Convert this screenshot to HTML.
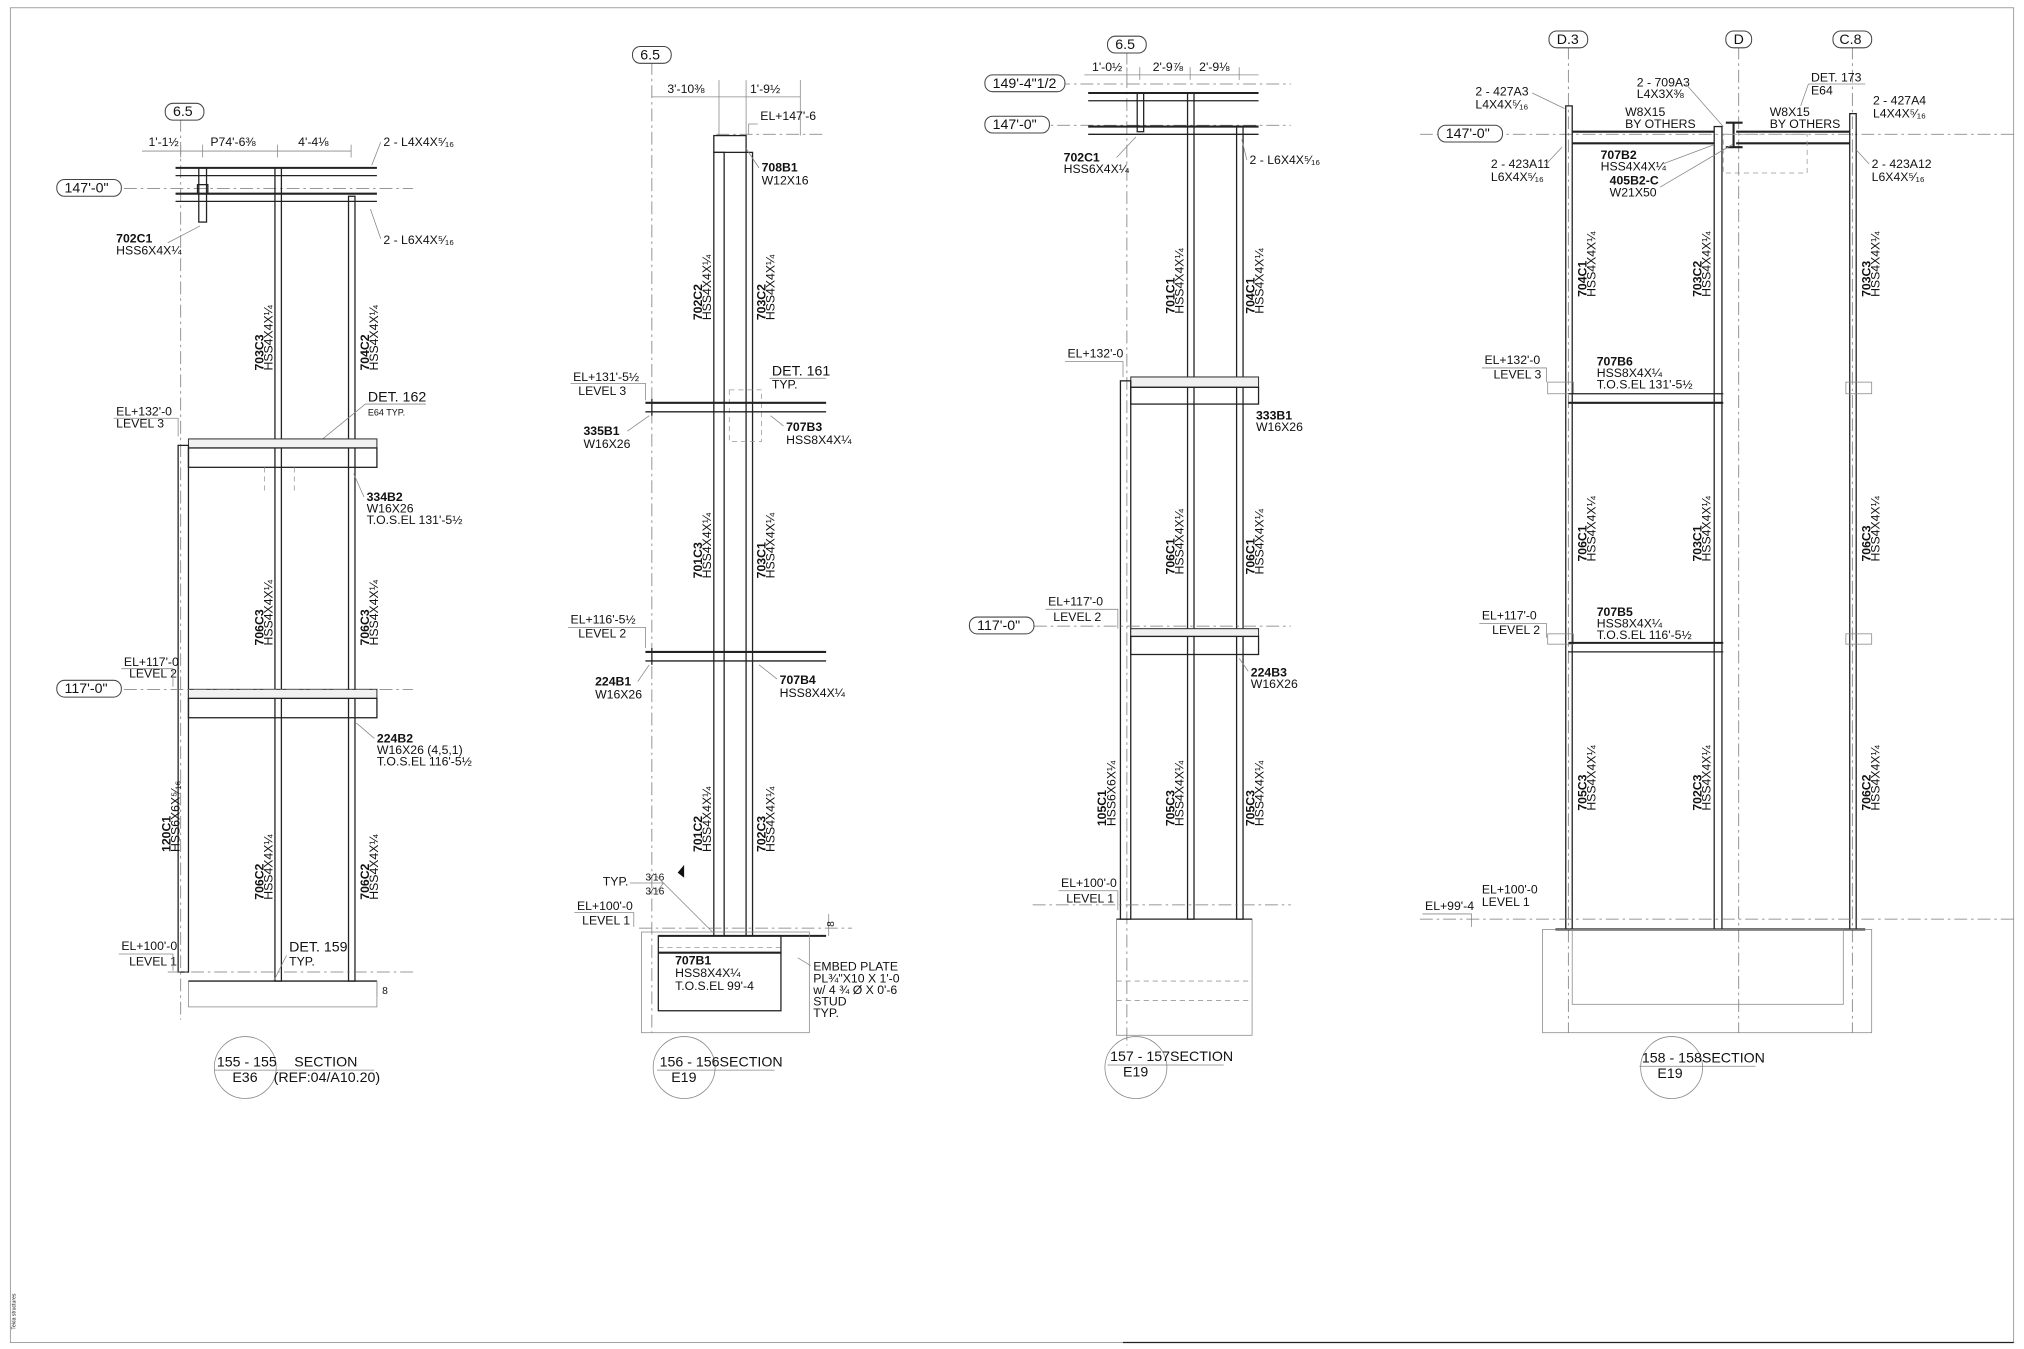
<!DOCTYPE html>
<html><head><meta charset="utf-8"><style>
html,body{margin:0;padding:0;background:#fff}
svg{display:block}
text{font-family:"Liberation Sans",sans-serif;font-size:9.5px;fill:#111}
.b{font-weight:bold}
.l{stroke:#222;stroke-width:1;fill:none}
.t{stroke:#222;stroke-width:1.6;fill:none}
.d{stroke:#777;stroke-width:.6;fill:none;stroke-dasharray:10 3 2 3}
.h{stroke:#999;stroke-width:.6;fill:none;stroke-dasharray:4 3}
.g{stroke:#888;stroke-width:.6;fill:none}
.sl{fill:#f1f1f1;stroke:#333;stroke-width:.8}
.bub{fill:#fff;stroke:#444;stroke-width:.8}
</style></head><body>
<svg width="2024" height="1349" viewBox="0 0 1568 1045" xmlns="http://www.w3.org/2000/svg">
<rect x="8" y="6" width="1552" height="1034" class="g"/>
<text x="12" y="1030" style="font-size:4px" transform="rotate(-90 12 1030)">Tekla structures</text>

<!-- ============ SECTION 155 ============ -->
<line x1="140" y1="92" x2="140" y2="790" class="d"/>
<line x1="60" y1="146" x2="320" y2="146" class="d"/>
<rect x="128" y="80" width="30" height="13" rx="6" class="bub"/><text x="134" y="90" style="font-size:11px">6.5</text>
<rect x="44" y="139" width="50" height="13" rx="6" class="bub"/><text x="50" y="149" style="font-size:11px">147'-0"</text>
<line x1="110" y1="117" x2="272" y2="117" class="g"/>
<line x1="140" y1="112" x2="140" y2="122" class="g"/><line x1="157" y1="112" x2="157" y2="122" class="g"/><line x1="215" y1="112" x2="215" y2="122" class="g"/><line x1="272" y1="112" x2="272" y2="122" class="g"/>
<text x="115" y="113">1'-1½</text><text x="163" y="113">P74'-6⅜</text><text x="231" y="113">4'-4⅛</text>
<line x1="136" y1="130" x2="292" y2="130" class="t"/><line x1="136" y1="136" x2="292" y2="136" class="l"/>
<line x1="136" y1="150" x2="292" y2="150" class="t"/><line x1="136" y1="156" x2="292" y2="156" class="l"/>
<rect x="154" y="130" width="6" height="42" class="l"/><rect x="153" y="143" width="8" height="7" class="l"/>
<rect x="213" y="130" width="5" height="630" class="l"/><rect x="270" y="152" width="5" height="608" class="l"/>
<text x="297" y="113">2 - L4X4X⁵⁄₁₆</text><path d="M295 110 L288 128" class="g"/>
<text x="297" y="189">2 - L6X4X⁵⁄₁₆</text><path d="M295 185 L287 162" class="g"/>
<text x="90" y="188" class="b">702C1</text><text x="90" y="197">HSS6X4X¼</text><path d="M130 188 L155 175" class="g"/>
<text transform="translate(204 287) rotate(-90)" class="b">703C3</text><text transform="translate(211 287) rotate(-90)">HSS4X4X¼</text>
<text transform="translate(286 287) rotate(-90)" class="b">704C2</text><text transform="translate(293 287) rotate(-90)">HSS4X4X¼</text>
<text x="285" y="311" style="font-size:11px">DET. 162</text><text x="285" y="322" style="font-size:7px">E64 TYP.</text><line x1="283" y1="313" x2="330" y2="313" class="g"/><path d="M283 313 L250 340" class="g"/>
<text x="90" y="322">EL+132'-0</text><text x="90" y="331">LEVEL 3</text><path d="M88 324 L138 324 L138 338" class="g"/>
<rect x="146" y="340" width="146" height="7" class="sl"/><rect x="146" y="347" width="146" height="15" fill="#fff" class="l"/>
<rect x="138" y="345" width="8" height="408" class="l"/>
<rect x="146" y="534" width="146" height="7" class="sl"/><rect x="146" y="541" width="146" height="15" fill="#fff" class="l"/>
<line x1="205" y1="362" x2="205" y2="380" class="h"/><line x1="228" y1="362" x2="228" y2="380" class="h"/>
<text x="284" y="388" class="b">334B2</text><text x="284" y="397">W16X26</text><text x="284" y="406">T.O.S.EL 131'-5½</text><path d="M282 385 L274 367" class="g"/>
<text transform="translate(204 500) rotate(-90)" class="b">706C3</text><text transform="translate(211 500) rotate(-90)">HSS4X4X¼</text>
<text transform="translate(286 500) rotate(-90)" class="b">706C3</text><text transform="translate(293 500) rotate(-90)">HSS4X4X¼</text>
<line x1="60" y1="534" x2="320" y2="534" class="d"/>
<rect x="44" y="527" width="50" height="13" rx="6" class="bub"/><text x="50" y="537" style="font-size:11px">117'-0"</text>
<text x="96" y="516">EL+117'-0</text><text x="100" y="525">LEVEL 2</text><path d="M94 518 L134 518 L134 532" class="g"/>
<text x="292" y="575" class="b">224B2</text><text x="292" y="584">W16X26 (4,5,1)</text><text x="292" y="593">T.O.S.EL 116'-5½</text><path d="M290 572 L276 560" class="g"/>
<text transform="translate(132 660) rotate(-90)" class="b">120C1</text><text transform="translate(139 660) rotate(-90)">HSS6X6X⁵⁄₁₆</text>
<text transform="translate(204 697) rotate(-90)" class="b">706C2</text><text transform="translate(211 697) rotate(-90)">HSS4X4X¼</text>
<text transform="translate(286 697) rotate(-90)" class="b">706C2</text><text transform="translate(293 697) rotate(-90)">HSS4X4X¼</text>
<text x="94" y="736">EL+100'-0</text><text x="100" y="748">LEVEL 1</text><path d="M92 739 L134 739 L134 752" class="g"/>
<text x="224" y="737" style="font-size:11px">DET. 159</text><text x="224" y="748">TYP.</text><path d="M222 740 L212 760" class="g"/>
<line x1="130" y1="753" x2="320" y2="753" class="d"/>
<rect x="146" y="760" width="146" height="20" fill="#f7f7f7" class="g"/>
<line x1="146" y1="760" x2="292" y2="760" class="l"/>
<line x1="292" y1="760" x2="292" y2="772" class="g"/><text x="296" y="770" style="font-size:8px">8</text>
<circle cx="190" cy="827" r="24" class="g"/>
<text x="168" y="826" style="font-size:11px">155 - 155</text><text x="228" y="826" style="font-size:11px">SECTION</text>
<line x1="166" y1="829" x2="290" y2="829" class="g"/>
<text x="180" y="838" style="font-size:11px">E36</text><text x="212" y="838" style="font-size:11px">(REF:04/A10.20)</text>

<!-- ============ SECTION 156 ============ -->
<line x1="505" y1="48" x2="505" y2="800" class="d"/>
<rect x="490" y="36" width="30" height="13" rx="6" class="bub"/><text x="496" y="46" style="font-size:11px">6.5</text>
<line x1="505" y1="75" x2="620" y2="75" class="g"/>
<line x1="557" y1="62" x2="557" y2="105" class="g"/><line x1="578" y1="62" x2="578" y2="105" class="g"/><line x1="620" y1="62" x2="620" y2="105" class="g"/>
<text x="517" y="72">3'-10⅜</text><text x="581" y="72">1'-9½</text>
<text x="589" y="93">EL+147'-6</text><line x1="555" y1="104" x2="640" y2="104" class="d"/><path d="M587 96 L580 96 L580 104" class="g"/>
<rect x="553" y="105" width="25" height="13" class="l"/>
<rect x="553" y="118" width="8" height="607" class="l"/><rect x="578" y="118" width="5" height="607" class="l"/>
<text x="590" y="133" class="b">708B1</text><text x="590" y="143">W12X16</text><path d="M588 130 L578 115" class="g"/>
<text transform="translate(544 248) rotate(-90)" class="b">702C2</text><text transform="translate(551 248) rotate(-90)">HSS4X4X¼</text>
<text transform="translate(593 248) rotate(-90)" class="b">703C2</text><text transform="translate(600 248) rotate(-90)">HSS4X4X¼</text>
<text x="598" y="291" style="font-size:11px">DET. 161</text><text x="598" y="301">TYP.</text><line x1="596" y1="293" x2="640" y2="293" class="g"/>
<rect x="565" y="302" width="25" height="40" class="h"/>
<text x="444" y="295">EL+131'-5½</text><text x="448" y="306">LEVEL 3</text><path d="M442 297 L500 297 L500 310" class="g"/>
<line x1="500" y1="312" x2="640" y2="312" class="t"/><line x1="500" y1="319" x2="640" y2="319" class="l"/><line x1="505" y1="309" x2="505" y2="322" class="l"/>
<text x="452" y="337" class="b">335B1</text><text x="452" y="347">W16X26</text><path d="M486 334 L503 322" class="g"/>
<text x="609" y="334" class="b">707B3</text><text x="609" y="344">HSS8X4X¼</text><path d="M607 330 L597 322" class="g"/>
<text transform="translate(544 448) rotate(-90)" class="b">701C3</text><text transform="translate(551 448) rotate(-90)">HSS4X4X¼</text>
<text transform="translate(593 448) rotate(-90)" class="b">703C1</text><text transform="translate(600 448) rotate(-90)">HSS4X4X¼</text>
<text x="442" y="483">EL+116'-5½</text><text x="448" y="494">LEVEL 2</text><path d="M440 486 L500 486 L500 502" class="g"/>
<line x1="500" y1="505" x2="640" y2="505" class="t"/><line x1="500" y1="512" x2="640" y2="512" class="l"/><line x1="505" y1="502" x2="505" y2="515" class="l"/>
<text x="461" y="531" class="b">224B1</text><text x="461" y="541">W16X26</text><path d="M494 528 L503 515" class="g"/>
<text x="604" y="530" class="b">707B4</text><text x="604" y="540">HSS8X4X¼</text><path d="M602 526 L588 515" class="g"/>
<text transform="translate(544 660) rotate(-90)" class="b">701C2</text><text transform="translate(551 660) rotate(-90)">HSS4X4X¼</text>
<text transform="translate(593 660) rotate(-90)" class="b">702C3</text><text transform="translate(600 660) rotate(-90)">HSS4X4X¼</text>
<text x="467" y="686">TYP.</text><text x="500" y="682" style="font-size:8px">3⁄16</text><text x="500" y="693" style="font-size:8px">3⁄16</text>
<path d="M488 684 L514 684 L508 678 M514 684 L508 692 M514 684 L552 722" class="g"/><path d="M525 676 L530 670 L530 680 Z" fill="#111"/>
<text x="447" y="705">EL+100'-0</text><text x="451" y="716">LEVEL 1</text><path d="M445 707 L491 707 L491 718" class="g"/>
<line x1="495" y1="719" x2="660" y2="719" class="d"/>
<line x1="510" y1="725" x2="640" y2="725" class="t"/><line x1="510" y1="734" x2="605" y2="734" class="h"/><line x1="510" y1="738" x2="605" y2="738" class="t"/>
<rect x="497" y="722" width="130" height="78" fill="#f8f8f8" class="g"/>
<rect x="510" y="725" width="95" height="58" fill="#fff" class="l"/>
<text x="523" y="747" class="b">707B1</text><text x="523" y="757">HSS8X4X¼</text><text x="523" y="767">T.O.S.EL 99'-4</text>
<text x="630" y="752">EMBED PLATE</text><text x="630" y="761">PL¾"X10 X 1'-0</text><text x="630" y="770">w/ 4 ¾ Ø X 0'-6</text><text x="630" y="779">STUD</text><text x="630" y="788">TYP.</text>
<path d="M628 748 L618 742" class="g"/><line x1="642" y1="708" x2="642" y2="725" class="g"/><text x="646" y="718" style="font-size:8px" transform="rotate(-90 646 718)">8</text>
<circle cx="530" cy="827" r="24" class="g"/>
<text x="511" y="826" style="font-size:11px">156 - 156SECTION</text><line x1="509" y1="829" x2="600" y2="829" class="g"/><text x="520" y="838" style="font-size:11px">E19</text>

<!-- ============ SECTION 157 ============ -->
<line x1="873" y1="40" x2="873" y2="810" class="d"/>
<rect x="858" y="28" width="30" height="13" rx="6" class="bub"/><text x="864" y="38" style="font-size:11px">6.5</text>
<line x1="765" y1="65" x2="1000" y2="65" class="d"/><line x1="765" y1="97" x2="1000" y2="97" class="d"/>
<rect x="763" y="58" width="62" height="13" rx="6" class="bub"/><text x="769" y="68" style="font-size:11px">149'-4"1/2</text>
<rect x="763" y="90" width="50" height="13" rx="6" class="bub"/><text x="769" y="100" style="font-size:11px">147'-0"</text>
<line x1="840" y1="58" x2="975" y2="58" class="g"/>
<line x1="873" y1="52" x2="873" y2="62" class="g"/><line x1="883" y1="52" x2="883" y2="62" class="g"/><line x1="922" y1="52" x2="922" y2="62" class="g"/><line x1="960" y1="52" x2="960" y2="62" class="g"/>
<text x="846" y="55">1'-0½</text><text x="893" y="55">2'-9⅞</text><text x="929" y="55">2'-9⅛</text>
<line x1="843" y1="72" x2="975" y2="72" class="t"/><line x1="843" y1="78" x2="975" y2="78" class="l"/>
<line x1="843" y1="98" x2="975" y2="98" class="t"/><line x1="843" y1="104" x2="975" y2="104" class="l"/>
<rect x="881" y="72" width="5" height="30" class="l"/>
<rect x="920" y="72" width="5" height="640" class="l"/><rect x="958" y="98" width="5" height="614" class="l"/>
<text x="824" y="125" class="b">702C1</text><text x="824" y="134">HSS6X4X¼</text><path d="M865 122 L880 106" class="g"/>
<text x="968" y="127">2 - L6X4X⁵⁄₁₆</text><path d="M966 124 L962 108" class="g"/>
<text transform="translate(910 243) rotate(-90)" class="b">701C1</text><text transform="translate(917 243) rotate(-90)">HSS4X4X¼</text>
<text transform="translate(972 243) rotate(-90)" class="b">704C1</text><text transform="translate(979 243) rotate(-90)">HSS4X4X¼</text>
<text x="827" y="277">EL+132'-0</text><path d="M825 280 L870 280 L870 292" class="g"/>
<rect x="876" y="292" width="99" height="8" class="sl"/><rect x="876" y="300" width="99" height="13" fill="#fff" class="l"/>
<rect x="868" y="295" width="8" height="417" class="l"/>
<text x="973" y="325" class="b">333B1</text><text x="973" y="334">W16X26</text>
<text transform="translate(910 445) rotate(-90)" class="b">706C1</text><text transform="translate(917 445) rotate(-90)">HSS4X4X¼</text>
<text transform="translate(972 445) rotate(-90)" class="b">706C1</text><text transform="translate(979 445) rotate(-90)">HSS4X4X¼</text>
<line x1="765" y1="485" x2="1000" y2="485" class="d"/>
<rect x="751" y="478" width="50" height="13" rx="6" class="bub"/><text x="757" y="488" style="font-size:11px">117'-0"</text>
<text x="812" y="469">EL+117'-0</text><text x="816" y="481">LEVEL 2</text><path d="M810 472 L866 472 L866 487" class="g"/>
<rect x="876" y="487" width="99" height="6" class="sl"/><rect x="876" y="493" width="99" height="14" fill="#fff" class="l"/>
<text x="969" y="524" class="b">224B3</text><text x="969" y="533">W16X26</text><path d="M967 520 L960 510" class="g"/>
<text transform="translate(857 640) rotate(-90)" class="b">105C1</text><text transform="translate(864 640) rotate(-90)">HSS6X6X¼</text>
<text transform="translate(910 640) rotate(-90)" class="b">705C3</text><text transform="translate(917 640) rotate(-90)">HSS4X4X¼</text>
<text transform="translate(972 640) rotate(-90)" class="b">705C3</text><text transform="translate(979 640) rotate(-90)">HSS4X4X¼</text>
<text x="822" y="687">EL+100'-0</text><text x="826" y="699">LEVEL 1</text><path d="M820 690 L866 690 L866 705" class="g"/>
<line x1="800" y1="701" x2="1000" y2="701" class="d"/>
<rect x="865" y="712" width="105" height="90" fill="#f6f6f6" class="g"/>
<line x1="865" y1="712" x2="970" y2="712" class="l"/><line x1="865" y1="760" x2="970" y2="760" class="h"/><line x1="865" y1="775" x2="970" y2="775" class="h"/>
<circle cx="880" cy="827" r="24" class="g"/>
<text x="860" y="822" style="font-size:11px">157 - 157SECTION</text><line x1="858" y1="825" x2="948" y2="825" class="g"/><text x="870" y="834" style="font-size:11px">E19</text>

<!-- ============ SECTION 158 ============ -->
<line x1="1215" y1="36" x2="1215" y2="800" class="d"/><line x1="1347" y1="36" x2="1347" y2="800" class="d"/><line x1="1435" y1="36" x2="1435" y2="800" class="d"/>
<rect x="1200" y="24" width="30" height="13" rx="6" class="bub"/><text x="1206" y="34" style="font-size:11px">D.3</text>
<rect x="1337" y="24" width="20" height="13" rx="6" class="bub"/><text x="1343" y="34" style="font-size:11px">D</text>
<rect x="1420" y="24" width="30" height="13" rx="6" class="bub"/><text x="1425" y="34" style="font-size:11px">C.8</text>
<line x1="1100" y1="104" x2="1560" y2="104" class="d"/>
<rect x="1114" y="97" width="50" height="13" rx="6" class="bub"/><text x="1120" y="107" style="font-size:11px">147'-0"</text>
<rect x="1213" y="82" width="5" height="638" class="l"/>
<rect x="1328" y="98" width="6" height="622" class="l"/>
<rect x="1433" y="88" width="5" height="632" class="l"/>
<line x1="1218" y1="102" x2="1328" y2="102" class="t"/><line x1="1218" y1="111" x2="1328" y2="111" class="t"/>
<line x1="1345" y1="102" x2="1433" y2="102" class="t"/><line x1="1345" y1="111" x2="1433" y2="111" class="t"/>
<path d="M1337 95 L1350 95 M1343 95 L1343 114 M1337 114 L1350 114" class="t"/>
<rect x="1335" y="104" width="65" height="30" class="h"/>
<text x="1143" y="74">2 - 427A3</text><text x="1143" y="84">L4X4X⁵⁄₁₆</text><path d="M1187 72 L1212 84" class="g"/>
<text x="1259" y="90">W8X15</text><text x="1259" y="99">BY OTHERS</text>
<text x="1268" y="67">2 - 709A3</text><text x="1268" y="76">L4X3X⅜</text><path d="M1306 65 L1335 98" class="g"/>
<text x="1403" y="63">DET. 173</text><text x="1403" y="73">E64</text><path d="M1401 65 L1445 65 M1401 65 L1395 82" class="g"/>
<text x="1371" y="90">W8X15</text><text x="1371" y="99">BY OTHERS</text>
<text x="1451" y="81">2 - 427A4</text><text x="1451" y="91">L4X4X⁵⁄₁₆</text>
<text x="1155" y="130">2 - 423A11</text><text x="1155" y="140">L6X4X⁵⁄₁₆</text><path d="M1197 128 L1210 114" class="g"/>
<text x="1240" y="123" class="b">707B2</text><text x="1240" y="132">HSS4X4X¼</text><text x="1247" y="143" class="b">405B2-C</text><text x="1247" y="152">W21X50</text>
<path d="M1288 127 L1328 112 M1286 145 L1342 112" class="g"/>
<text x="1450" y="130">2 - 423A12</text><text x="1450" y="140">L6X4X⁵⁄₁₆</text><path d="M1448 127 L1438 116" class="g"/>
<text transform="translate(1229 230) rotate(-90)" class="b">704C1</text><text transform="translate(1236 230) rotate(-90)">HSS4X4X¼</text>
<text transform="translate(1318 230) rotate(-90)" class="b">703C2</text><text transform="translate(1325 230) rotate(-90)">HSS4X4X¼</text>
<text transform="translate(1449 230) rotate(-90)" class="b">703C3</text><text transform="translate(1456 230) rotate(-90)">HSS4X4X¼</text>
<text x="1150" y="282">EL+132'-0</text><text x="1157" y="293">LEVEL 3</text><path d="M1148 285 L1198 285 L1198 296" class="g"/>
<rect x="1199" y="296" width="20" height="9" fill="#f3f3f3" class="g"/><rect x="1430" y="296" width="20" height="9" fill="#f3f3f3" class="g"/>
<line x1="1215" y1="305" x2="1335" y2="305" class="l"/><line x1="1215" y1="312" x2="1335" y2="312" class="t"/>
<text x="1237" y="283" class="b">707B6</text><text x="1237" y="292">HSS8X4X¼</text><text x="1237" y="301">T.O.S.EL 131'-5½</text>
<text transform="translate(1229 435) rotate(-90)" class="b">706C1</text><text transform="translate(1236 435) rotate(-90)">HSS4X4X¼</text>
<text transform="translate(1318 435) rotate(-90)" class="b">703C1</text><text transform="translate(1325 435) rotate(-90)">HSS4X4X¼</text>
<text transform="translate(1449 435) rotate(-90)" class="b">706C3</text><text transform="translate(1456 435) rotate(-90)">HSS4X4X¼</text>
<text x="1148" y="480">EL+117'-0</text><text x="1156" y="491">LEVEL 2</text><path d="M1146 483 L1198 483 L1198 494" class="g"/>
<rect x="1199" y="491" width="20" height="8" fill="#f3f3f3" class="g"/><rect x="1430" y="491" width="20" height="8" fill="#f3f3f3" class="g"/>
<line x1="1215" y1="498" x2="1335" y2="498" class="t"/><line x1="1215" y1="505" x2="1335" y2="505" class="l"/>
<text x="1237" y="477" class="b">707B5</text><text x="1237" y="486">HSS8X4X¼</text><text x="1237" y="495">T.O.S.EL 116'-5½</text>
<text transform="translate(1229 628) rotate(-90)" class="b">705C3</text><text transform="translate(1236 628) rotate(-90)">HSS4X4X¼</text>
<text transform="translate(1318 628) rotate(-90)" class="b">702C3</text><text transform="translate(1325 628) rotate(-90)">HSS4X4X¼</text>
<text transform="translate(1449 628) rotate(-90)" class="b">706C2</text><text transform="translate(1456 628) rotate(-90)">HSS4X4X¼</text>
<text x="1148" y="692">EL+100'-0</text><text x="1148" y="702">LEVEL 1</text>
<text x="1104" y="705">EL+99'-4</text><path d="M1102 708 L1140 708 L1140 718" class="g"/>
<line x1="1100" y1="712" x2="1560" y2="712" class="d"/>
<line x1="1205" y1="720" x2="1445" y2="720" class="t"/>
<rect x="1195" y="720" width="255" height="80" fill="#fafafa" class="g"/>
<rect x="1218" y="720" width="210" height="58" fill="#fff" class="g"/>
<circle cx="1295" cy="827" r="24" class="g"/>
<text x="1272" y="823" style="font-size:11px">158 - 158SECTION</text><line x1="1270" y1="826" x2="1360" y2="826" class="g"/><text x="1284" y="835" style="font-size:11px">E19</text>
<line x1="870" y1="1040" x2="1560" y2="1040" class="l"/>
</svg>
</body></html>
